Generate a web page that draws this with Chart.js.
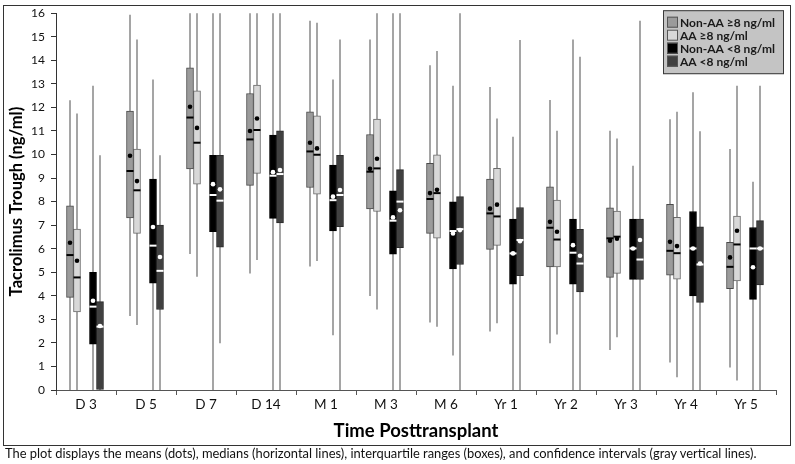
<!DOCTYPE html>
<html>
<head>
<meta charset="utf-8">
<script src="https://cdn.jsdelivr.net/npm/chart.js@4.4.1/dist/chart.umd.min.js"></script>
<style>
  html, body { margin: 0; padding: 0; background: #fff; }
  body { width: 795px; height: 464px; position: relative; overflow: hidden; font-family: Lato, "Open Sans", sans-serif; }
  #frame { position: absolute; left: 3px; top: 5px; width: 788px; height: 441px; border: 1.5px solid #333; box-sizing: border-box; }
  #wrap { position: absolute; left: 0; top: 0; width: 795px; height: 446px; }
  #caption { position: absolute; left: 5px; top: 446px; font-size: 12.9px; line-height: 15px; color: #111; white-space: nowrap; }
</style>
</head>
<body>
<div id="frame"></div>
<div id="wrap"><canvas id="chart" width="795" height="446"></canvas></div>
<div id="caption">The plot displays the means (dots), medians (horizontal lines), interquartile ranges (boxes), and confidence intervals (gray vertical lines).</div>
<script>
const categories = ["D 3", "D 5", "D 7", "D 14", "M 1", "M 3", "M 6", "Yr 1", "Yr 2", "Yr 3", "Yr 4", "Yr 5"];
const seriesNames = ["Non-AA \u22658 ng/ml", "AA \u22658 ng/ml", "Non-AA <8 ng/ml", "AA <8 ng/ml"];

// Non-AA >=8
const naHiQ1 = [3.93, 7.31, 9.39, 8.69, 8.6, 7.69, 6.65, 5.97, 5.23, 4.78, 4.88, 4.3];
const naHiQ3 = [7.82, 11.84, 13.68, 12.59, 11.81, 10.85, 9.62, 8.96, 8.63, 7.74, 7.88, 6.27];
const naHiMed = [5.73, 9.3, 11.57, 10.64, 10.13, 9.27, 8.11, 7.5, 6.89, 6.44, 5.91, 5.23];
const naHiMean = [6.25, 9.95, 12.03, 11.0, 10.5, 9.39, 8.36, 7.7, 7.14, 6.34, 6.29, 5.63];
const naHiLow = [0, 3.14, 5.77, 4.95, 5.24, 3.99, 2.87, 2.48, 1.98, 1.7, 1.17, 0.96];
const naHiHigh = [12.3, 15.93, 16, 16, 15.68, 14.88, 13.79, 12.87, 12.31, 11.01, 11.5, 10.23];

// AA >=8
const aaHiQ1 = [3.32, 6.65, 8.74, 9.2, 8.32, 7.58, 6.45, 6.14, 5.23, 4.95, 4.71, 4.63];
const aaHiQ3 = [6.83, 10.23, 12.7, 12.95, 11.64, 11.5, 9.99, 9.41, 8.06, 7.6, 7.33, 7.39];
const aaHiMed = [4.78, 8.48, 10.5, 11.04, 9.99, 9.41, 8.36, 7.37, 6.39, 6.51, 5.81, 6.18];
const aaHiMean = [5.49, 8.87, 11.13, 11.53, 10.26, 9.82, 8.5, 7.87, 6.72, 6.42, 6.11, 6.76];
const aaHiLow = [0, 2.76, 4.81, 5.52, 5.48, 3.42, 2.69, 2.83, 2.36, 2.24, 0.54, 0.4];
const aaHiHigh = [11.74, 14.88, 16, 16, 15.59, 16, 14.4, 11.53, 11.01, 10.68, 11.81, 12.92];

// Non-AA <8
const naLoQ1 = [1.95, 4.54, 6.72, 7.29, 6.76, 5.77, 5.14, 4.49, 4.49, 4.7, 3.99, 3.85];
const naLoQ3 = [5.0, 8.96, 9.96, 10.82, 9.55, 8.46, 7.99, 7.26, 7.26, 7.26, 7.58, 6.9];
const naLoMed = [3.54, 6.13, 8.28, 9.1, 8.06, 7.19, 6.75, 5.8, 5.83, 6.01, 6.01, 6.01];
const naLoMean = [3.79, 6.92, 8.74, 9.25, 8.21, 7.33, 6.65, 5.8, 6.15, 6.01, 6.01, 5.21];
const naLoLow = [0, 0, 0, 0, 2.33, 0, 1.46, 0, 0, 0, 0, 0];
const naLoHigh = [12.92, 13.19, 16, 16, 13.19, 16, 12.92, 10.75, 14.88, 9.52, 12.64, 8.84];

// AA <8
const aaLoQ1 = [0, 3.42, 6.07, 7.1, 6.94, 6.04, 5.33, 4.85, 4.17, 4.7, 3.72, 4.46];
const aaLoQ3 = [3.75, 7.0, 9.96, 11.01, 9.96, 9.36, 8.21, 7.75, 6.82, 7.26, 6.93, 7.19];
const aaLoMed = [2.69, 5.06, 8.04, 9.17, 8.28, 8.0, 6.83, 6.37, 5.37, 5.54, 5.33, 6.01];
const aaLoMean = [2.72, 5.65, 8.52, 9.34, 8.49, 7.63, 6.79, 6.32, 5.7, 6.37, 5.37, 6.01];
const aaLoLow = [0, 0, 1.98, 0, 0, 0, 0, 0, 0, 0, 0, 0];
const aaLoHigh = [9.97, 9.97, 16, 16, 14.88, 16, 16, 14.86, 14.15, 15.68, 10.99, 12.92];

const boxFill = ["#9b9b9b", "#d8d8d8", "#000000", "#404040"];
const boxBorder = ["#4a4a4a", "#6a6a6a", "#000000", "#2a2a2a"];
const markColor = ["#000000", "#000000", "#ffffff", "#ffffff"];
// box centre offset from the category centre, px
const groupOffsets = [-16, -9, 7, 14];
const BOX_WIDTH = 7;
const FONT = "Lato, 'Open Sans', sans-serif";

const series = [
  { q1: naHiQ1, q3: naHiQ3, med: naHiMed, mean: naHiMean, low: naHiLow, high: naHiHigh },
  { q1: aaHiQ1, q3: aaHiQ3, med: aaHiMed, mean: aaHiMean, low: aaHiLow, high: aaHiHigh },
  { q1: naLoQ1, q3: naLoQ3, med: naLoMed, mean: naLoMean, low: naLoLow, high: naLoHigh },
  { q1: aaLoQ1, q3: aaLoQ3, med: aaLoMed, mean: aaLoMean, low: aaLoLow, high: aaLoHigh },
];

const datasets = series.map((s, d) => ({
  label: seriesNames[d],
  data: categories.map((_, i) => [s.q1[i], s.q3[i]]),
  backgroundColor: boxFill[d],
  borderColor: boxBorder[d],
  borderWidth: 1,
  borderSkipped: false,
  // grouped bar centre = category centre + thickness * (index - 1.5)
  barThickness: groupOffsets[d] / (d - 1.5),
  maxBarThickness: BOX_WIDTH,
  stats: s,
}));

const boxPlotMarks = {
  id: "boxPlotMarks",
  beforeDatasetsDraw(chart) {
    const { ctx } = chart;
    const y = chart.scales.y;
    ctx.save();
    ctx.strokeStyle = "#a5a5a5";
    ctx.lineWidth = 2;
    chart.data.datasets.forEach((ds, d) => {
      chart.getDatasetMeta(d).data.forEach((bar, i) => {
        ctx.beginPath();
        ctx.moveTo(bar.x, y.getPixelForValue(ds.stats.low[i]));
        ctx.lineTo(bar.x, y.getPixelForValue(ds.stats.high[i]));
        ctx.stroke();
      });
    });
    ctx.restore();
  },
  afterDatasetsDraw(chart) {
    const { ctx } = chart;
    const y = chart.scales.y;
    ctx.save();
    chart.data.datasets.forEach((ds, d) => {
      chart.getDatasetMeta(d).data.forEach((bar, i) => {
        const half = bar.width / 2;
        const my = y.getPixelForValue(ds.stats.med[i]);
        ctx.strokeStyle = markColor[d];
        ctx.lineWidth = 2;
        ctx.beginPath();
        ctx.moveTo(bar.x - half, my);
        ctx.lineTo(bar.x + half, my);
        ctx.stroke();
        ctx.fillStyle = markColor[d];
        ctx.beginPath();
        ctx.arc(bar.x, y.getPixelForValue(ds.stats.mean[i]), 2.3, 0, Math.PI * 2);
        ctx.fill();
      });
    });
    ctx.restore();
  },
};

const boxLegend = {
  id: "boxLegend",
  afterDraw(chart) {
    const { ctx, chartArea } = chart;
    const w = 121, h = 64;
    const x = chartArea.right + 8 - w;
    const top = chartArea.top - 3;
    ctx.save();
    ctx.fillStyle = "#c4c4c4";
    ctx.fillRect(x, top, w, h);
    ctx.strokeStyle = "#3a3a3a";
    ctx.lineWidth = 1;
    ctx.strokeRect(x + 0.5, top + 0.5, w - 1, h - 1);
    ctx.font = "bold 12px " + FONT;
    ctx.textBaseline = "middle";
    chart.data.datasets.forEach((ds, d) => {
      const ry = top + 12 + d * 13;
      ctx.fillStyle = boxFill[d];
      ctx.fillRect(x + 4, ry - 5.5, 11, 11);
      ctx.strokeStyle = "#555";
      ctx.strokeRect(x + 4.5, ry - 5, 10, 10);
      ctx.fillStyle = "#1a1a1a";
      ctx.fillText(ds.label, x + 17, ry + 0.5);
    });
    ctx.restore();
  },
};

new Chart(document.getElementById("chart"), {
  type: "bar",
  data: { labels: categories, datasets },
  options: {
    responsive: false,
    animation: false,
    layout: { padding: { left: 4, right: 19, top: 13, bottom: 0 } },
    plugins: { legend: { display: false }, tooltip: { enabled: false } },
    scales: {
      x: {
        grid: { display: true, drawOnChartArea: false, tickLength: 5, color: "#555" },
        border: { color: "#555", width: 1 },
        ticks: { color: "#111", font: { family: FONT, size: 13.5 }, padding: 2, maxRotation: 0 },
        title: {
          display: true,
          text: "Time Posttransplant",
          color: "#000",
          font: { family: FONT, size: 18.5, weight: "bold" },
          padding: { top: 2, bottom: 4 },
        },
        afterFit(scale) { scale.height = 56; },
      },
      y: {
        min: 0,
        max: 16,
        ticks: { stepSize: 1, color: "#111", font: { family: FONT, size: 12 }, padding: 6 },
        grid: { display: true, drawOnChartArea: false, tickLength: 5, color: "#333" },
        border: { color: "#333", width: 1 },
        title: {
          display: true,
          text: "Tacrolimus Trough (ng/ml)",
          color: "#000",
          font: { family: FONT, size: 16.5, weight: "bold" },
          padding: { top: 3, bottom: 2 },
        },
        afterFit(scale) { scale.width = 52; },
      },
    },
  },
  plugins: [boxPlotMarks, boxLegend],
});
</script>
</body>
</html>
